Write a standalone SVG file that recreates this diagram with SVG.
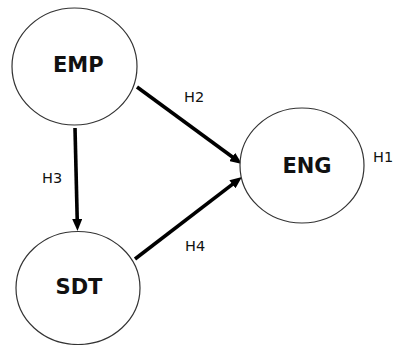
<svg xmlns="http://www.w3.org/2000/svg" width="394" height="345" viewBox="0 0 394 345">
  <style>
    .node { fill: #ffffff; stroke: #333333; stroke-width: 1.2; }
    .name { font-family: "DejaVu Sans", Verdana, sans-serif; font-weight: bold; font-size: 21px; fill: #111111; text-anchor: middle; }
    .hyp { font-family: "DejaVu Sans", Verdana, sans-serif; font-size: 14.5px; fill: #111111; }
    .edge { stroke: #000000; stroke-width: 3.6; fill: none; marker-end: url(#head); }
  </style>
  <defs>
    <marker id="head" viewBox="0 0 12 10" refX="4" refY="5" markerWidth="12" markerHeight="10" markerUnits="userSpaceOnUse" orient="auto">
      <path d="M0,0 L12,5 L0,10 z" fill="#000000"/>
    </marker>
  </defs>
  <rect width="394" height="345" fill="#ffffff"/>

  <g id="connectors">
    <line class="edge" x1="137" y1="87" x2="235.5" y2="159.3"/>
    <line class="edge" x1="135" y1="259" x2="235.6" y2="181.9"/>
    <line class="edge" x1="75" y1="128" x2="77.3" y2="223"/>
    <text class="hyp" x="184" y="102">H2</text>
    <text class="hyp" x="42" y="183">H3</text>
    <text class="hyp" x="185" y="250.5">H4</text>
  </g>

  <g id="node-emp">
    <ellipse class="node" cx="74.5" cy="66.5" rx="62.5" ry="58.5"/>
    <text class="name" x="78.3" y="72.3">EMP</text>
  </g>

  <g id="node-sdt">
    <ellipse class="node" cx="78" cy="288" rx="62" ry="56.5"/>
    <text class="name" x="79" y="294">SDT</text>
  </g>

  <g id="node-eng">
    <ellipse class="node" cx="302" cy="165.5" rx="62" ry="57.5"/>
    <text class="name" x="307" y="172.5">ENG</text>
    <text class="hyp" x="373" y="161.5">H1</text>
  </g>
</svg>
